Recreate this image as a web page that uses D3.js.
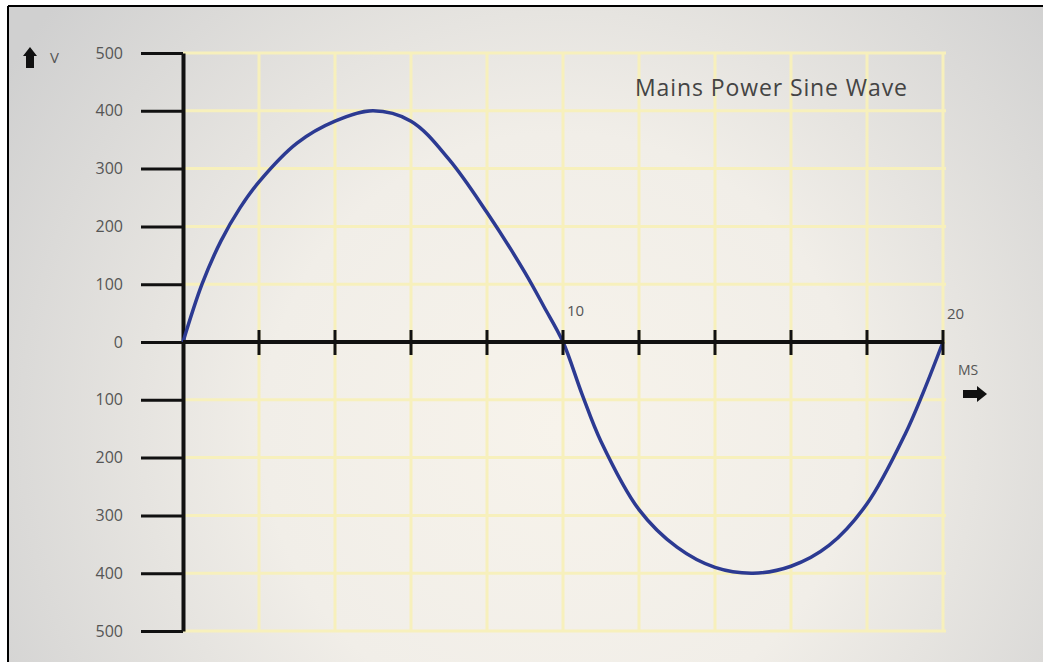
<!DOCTYPE html>
<html>
<head>
<meta charset="utf-8">
<style>
	body { margin: 0; background: #fff; }
	svg { display: block; }
	text { font-family: "Open Sans", "Noto Sans", sans-serif; fill: #555; }
	.grid line { stroke: #f7f0bc; stroke-width: 3px; }
	.y-axis .domain { stroke: #111; stroke-width: 4px; }
	.y-axis .tick line { stroke: #111; stroke-width: 3px; }
	.y-axis .tick text { font-size: 16px; fill: #555; }
	.wave { fill: none; stroke: #2c3a92; stroke-width: 3.5px; }
</style>
</head>
<body>
<div id="chart"></div>
<script src="https://d3js.org/d3.v7.min.js"></script>
<script>
	// values (time in ms, voltage in V)
	const timeMs = [0, 0.5, 1, 1.5, 2, 3, 4, 5, 6, 7, 8, 9, 9.5, 10, 10.5, 11, 12, 13, 14, 15, 16, 17, 18, 19, 19.5, 20];
	const volts = [0, 100, 175, 232, 277, 344, 382, 400, 382, 316, 224, 120, 61, 0, -90, -172, -290, -355, -390, -400, -388, -352, -280, -160, -84, 0];

	const yTicks = [500, 400, 300, 200, 100, 0, -100, -200, -300, -400, -500];
	const xTicks = [0, 2, 4, 6, 8, 10, 12, 14, 16, 18, 20];
	const xLabels = [10, 20];
	const title = "Mains Power Sine Wave";

	const W = 1043, H = 662;

	const svg = d3.select("#chart")
		.append("svg")
		.attr("width", W)
		.attr("height", H);

	// soft lit background
	const defs = svg.append("defs");
	const bg = defs.append("radialGradient")
		.attr("id", "bg")
		.attr("gradientUnits", "userSpaceOnUse")
		.attr("cx", 560).attr("cy", 430).attr("r", 660);
	bg.append("stop").attr("offset", "0").attr("stop-color", "#f7f3eb");
	bg.append("stop").attr("offset", "0.45").attr("stop-color", "#f1eee8");
	bg.append("stop").attr("offset", "1").attr("stop-color", "#d0d0d0");

	svg.append("rect")
		.attr("x", 9).attr("y", 7)
		.attr("width", W - 9).attr("height", H - 7)
		.attr("fill", "url(#bg)");

	// frame
	svg.append("line").attr("x1", 8).attr("x2", W).attr("y1", 6).attr("y2", 6)
		.attr("stroke", "#000").attr("stroke-width", 2);
	svg.append("line").attr("x1", 8).attr("x2", 8).attr("y1", 6).attr("y2", H)
		.attr("stroke", "#000").attr("stroke-width", 2);

	const x = d3.scaleLinear().domain([0, 20]).range([183, 943]);
	const y = d3.scaleLinear().domain([-500, 500]).range([631, 53]);

	// grid
	const grid = svg.append("g").attr("class", "grid");
	grid.selectAll(".v")
		.data(xTicks.slice(1))
		.join("line")
		.attr("x1", d => x(d)).attr("x2", d => x(d))
		.attr("y1", y(500)).attr("y2", y(-500));
	grid.selectAll(".h")
		.data(yTicks)
		.join("line")
		.attr("x1", x(0)).attr("x2", x(20) + 3)
		.attr("y1", d => y(d)).attr("y2", d => y(d));

	// title
	svg.append("text")
		.attr("x", 635).attr("y", 96)
		.style("font-size", "23px")
		.style("letter-spacing", "0.9px")
		.style("fill", "#444")
		.text(title);

	// y axis
	svg.append("g")
		.attr("class", "y-axis")
		.attr("transform", `translate(${x(0)},0)`)
		.call(d3.axisLeft(y)
			.tickValues(yTicks)
			.tickSize(42)
			.tickSizeOuter(0)
			.tickPadding(18)
			.tickFormat(d => Math.abs(d)));

	// wave
	const line = d3.line()
		.x(d => x(d[0]))
		.y(d => y(d[1]))
		.curve(d3.curveCatmullRom.alpha(0.5));

	svg.append("path")
		.datum(timeMs.map((t, i) => [t, volts[i]]))
		.attr("class", "wave")
		.attr("d", line);

	// x axis
	const xAxis = svg.append("g").attr("class", "x-axis");
	xAxis.append("line")
		.attr("x1", x(0)).attr("x2", x(20))
		.attr("y1", y(0)).attr("y2", y(0))
		.attr("stroke", "#111").attr("stroke-width", 4);
	xAxis.selectAll(".tick")
		.data(xTicks.slice(1))
		.join("line")
		.attr("x1", d => x(d)).attr("x2", d => x(d))
		.attr("y1", y(0) - 12).attr("y2", y(0) + 13)
		.attr("stroke", "#111").attr("stroke-width", 3);
	xAxis.selectAll(".lbl")
		.data(xLabels)
		.join("text")
		.attr("x", d => x(d) + 4)
		.attr("y", (d, i) => y(0) - 26 + i * 3)
		.style("font-size", "15px")
		.text(d => d);

	// axis unit labels and arrows
	svg.append("path")
		.attr("d", "M30,47 L37,56 L34,56 L34,68 L26,68 L26,56 L23,56 Z")
		.attr("fill", "#111");
	svg.append("text")
		.attr("x", 50).attr("y", 63)
		.style("font-size", "15px")
		.text("V");

	svg.append("text")
		.attr("x", 958).attr("y", 375)
		.style("font-size", "14px")
		.text("MS");
	svg.append("path")
		.attr("d", "M963,390 L977,390 L977,386 L987,394 L977,402 L977,398 L963,398 Z")
		.attr("fill", "#111");
</script>
</body>
</html>
